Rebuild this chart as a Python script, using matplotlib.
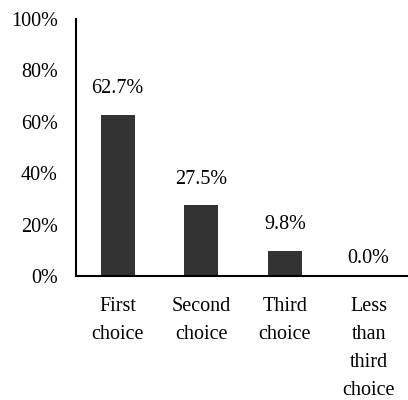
import matplotlib.pyplot as plt
from matplotlib.ticker import PercentFormatter

categories = ['First\nchoice', 'Second\nchoice', 'Third\nchoice', 'Less\nthan\nthird\nchoice']
shares = [62.7, 27.5, 9.8, 0.0]
value_labels = ['62.7%', '27.5%', '9.8%', '0.0%']

plt.rcParams['font.family'] = ['Liberation Serif', 'DejaVu Serif']

fig = plt.figure(figsize=(4.08, 4.0), dpi=100)
ax = fig.add_axes([0.186, 0.31, 0.82, 0.6425])

x = range(len(categories))
ax.bar(x, shares, width=0.41, color='#333333')

for i, (v, lab) in enumerate(zip(shares, value_labels)):
    off = 12 if v > 0 else 6
    ax.annotate(lab, (i, v), xytext=(0, off), textcoords='offset points',
                ha='center', va='bottom', fontsize=14.5)

ax.set_xlim(-0.5, 3.5)
ax.set_ylim(0, 100)
ax.set_yticks([0, 20, 40, 60, 80, 100])
ax.yaxis.set_major_formatter(PercentFormatter(decimals=0))
ax.set_xticks(list(x))
ax.set_xticklabels(categories, linespacing=1.64)

ax.tick_params(axis='both', length=0, labelsize=14.5)
ax.tick_params(axis='y', pad=13)
ax.tick_params(axis='x', pad=15)

for s in ['top', 'right']:
    ax.spines[s].set_visible(False)
ax.spines['left'].set_linewidth(1.5)
ax.spines['bottom'].set_linewidth(1.5)

fig.savefig('out.png', dpi=100)
